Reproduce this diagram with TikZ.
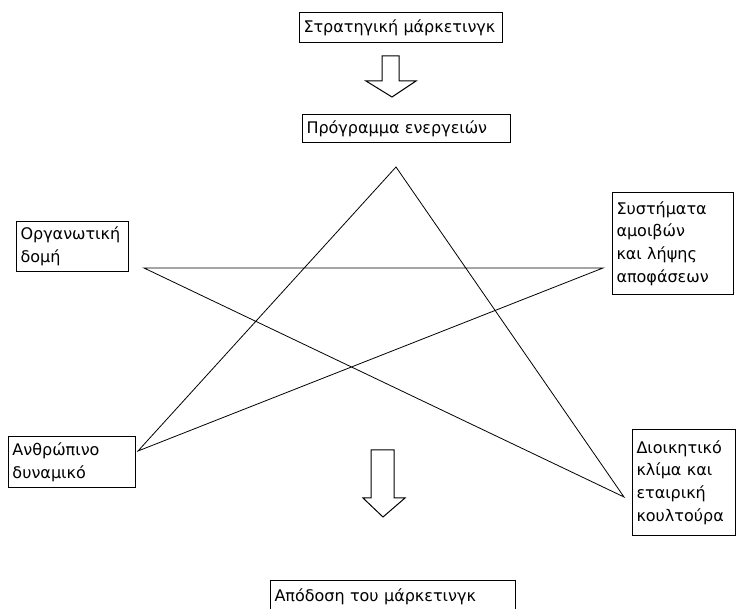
\documentclass[tikz,border=0pt]{standalone}
\usepackage{fontspec}
\setmainfont{DejaVu Sans}
\usetikzlibrary{positioning}

\tikzset{
  box/.style={draw, line width=1pt, anchor=north west, align=left, inner sep=4pt,
    font=\fontsize{16}{22.7}\selectfont},
  starline/.style={line width=0.8pt},
  hollowarrow/.style={draw, line width=1pt, fill=white}
}

\begin{document}
\begin{tikzpicture}[x=1pt,y=-1pt]
        \useasboundingbox (0,0) rectangle (740,609);

        % top of the chain
        \node[box, minimum width=203pt, minimum height=30pt, text width=195pt] (strat) at (299,12) {Στρατηγική μάρκετινγκ};
        \node[box, minimum width=208pt, minimum height=28pt, text width=200pt] (progr) at (302,114) {Πρόγραμμα ενεργειών};

        % the four factors
        \node[box, minimum width=112pt, minimum height=50pt, text width=104pt] (org) at (16,221) {Οργανωτική\\δομή};
        \node[box, minimum width=121pt, minimum height=102pt, text width=113pt] (syst) at (612,192) {Συστήματα\\αμοιβών\\και λήψης\\αποφάσεων};
        \node[box, minimum width=127pt, minimum height=51pt, text width=119pt] (anthr) at (8,436) {Ανθρώπινο\\δυναμικό};
        \node[box, minimum width=103pt, minimum height=106pt, text width=95pt] (dioik) at (632,429) {Διοικητικό\\κλίμα και\\εταιρική\\κουλτούρα};

        % result
        \node[box, minimum width=245pt, minimum height=33pt, text width=237pt] (apod) at (270,580) {Απόδοση του μάρκετινγκ};

        % star points
        \coordinate (s1) at (396,167);
        \coordinate (s2) at (144,268);
        \coordinate (s3) at (603,268);
        \coordinate (s4) at (138,451);
        \coordinate (s5) at (624,497);

        % star edges
        \draw[starline] (s1) -- (s4) -- (s3) -- (s2) -- (s5) -- cycle;

        % hollow arrows
        \draw[hollowarrow] (382,56) -- (399,56) -- (399,81) -- (416,81) -- (392,97) -- (366,81) -- (382,81) -- cycle;
        \draw[hollowarrow] (371,450) -- (394,450) -- (394,498) -- (405,498) -- (383,517) -- (363,498) -- (371,498) -- cycle;
    \end{tikzpicture}
\end{document}
